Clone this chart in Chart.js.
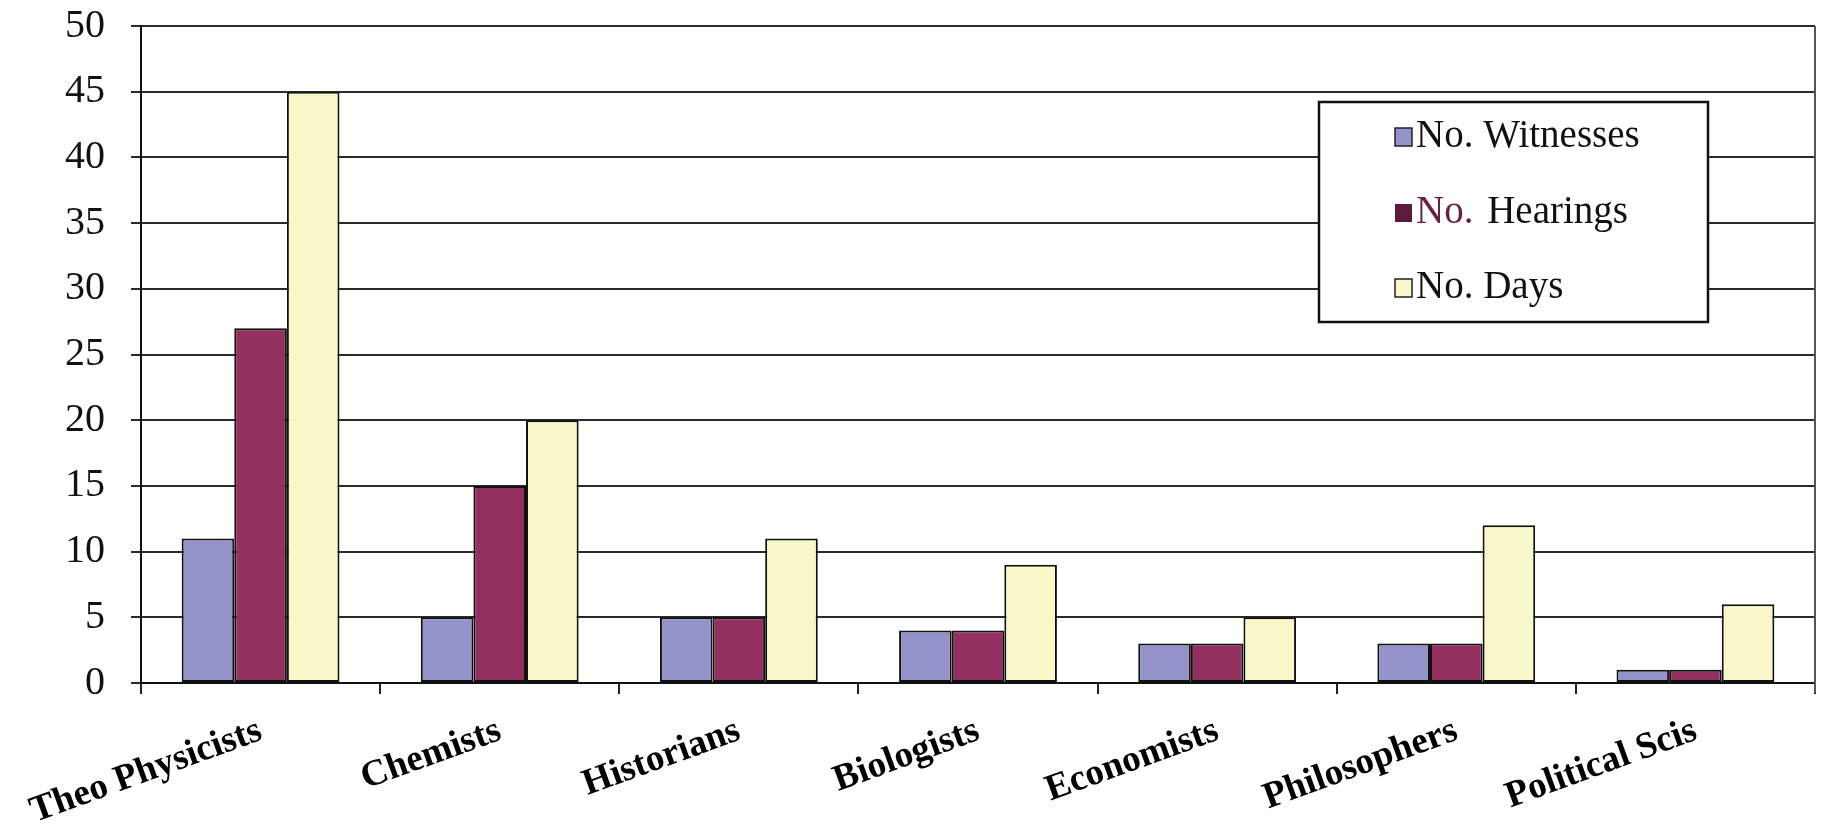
<!DOCTYPE html>
<html>
<head>
<meta charset="utf-8">
<style>
  html, body { margin: 0; padding: 0; background: #fff; }
  #wrap { width: 1827px; height: 825px; }
</style>
<script src="https://cdn.jsdelivr.net/npm/chart.js@4/dist/chart.umd.min.js"></script>
</head>
<body>
<div id="wrap"><canvas id="hearingsChart" width="1827" height="825"></canvas></div>
<script>
const categories = ["Theo Physicists", "Chemists", "Historians", "Biologists", "Economists", "Philosophers", "Political Scis"];
const witnesses = [11, 5, 5, 4, 3, 3, 1];
const hearings = [27, 15, 5, 4, 3, 3, 1];
const days = [45, 20, 11, 9, 5, 12, 6];
const seriesNames = ["No. Witnesses", "No. Hearings", "No. Days"];
const yTicks = [0, 5, 10, 15, 20, 25, 30, 35, 40, 45, 50];

const SERIF = "'Liberation Serif', 'Times New Roman', serif";

// right-hand frame line of the plot
const framePlugin = {
  id: "frame",
  afterDatasetsDraw(chart) {
    const { ctx, chartArea } = chart;
    ctx.save();
    ctx.strokeStyle = "#555";
    ctx.lineWidth = 2;
    ctx.beginPath();
    ctx.moveTo(chartArea.right, chartArea.top);
    ctx.lineTo(chartArea.right, chartArea.bottom + 10);
    ctx.stroke();
    ctx.restore();
  }
};

// boxed legend floating inside the plot, top right
const boxLegendPlugin = {
  id: "boxLegend",
  afterDraw(chart) {
    const { ctx, chartArea } = chart;
    const left = chartArea.right - 496;
    const top = chartArea.top + 76;
    const w = 389, h = 220;
    ctx.save();
    ctx.fillStyle = "#fff";
    ctx.fillRect(left, top, w, h);
    ctx.strokeStyle = "#111";
    ctx.lineWidth = 2.5;
    ctx.strokeRect(left, top, w, h);

    const rows = [35, 111, 186];
    ctx.font = "39px " + SERIF;
    ctx.textBaseline = "middle";
    chart.data.datasets.forEach((ds, i) => {
      const y = top + rows[i];
      const mx = left + 76;
      ctx.fillStyle = i === 1 ? "#5e1a3a" : ds.backgroundColor;
      ctx.fillRect(mx, y - 9, 17, 18);
      if (i !== 1) {
        ctx.strokeStyle = "#222";
        ctx.lineWidth = 1.5;
        ctx.strokeRect(mx, y - 9, 17, 18);
      }
      const tx = mx + 21;
      if (i === 1) {
        ctx.fillStyle = "#6b1e42";
        ctx.fillText("No.", tx, y);
        const nw = ctx.measureText("No. ").width;
        ctx.fillStyle = "#111";
        ctx.fillText(ds.label.replace("No. ", ""), tx + nw + 4, y);
      } else {
        ctx.fillStyle = "#111";
        ctx.fillText(ds.label, tx, y);
      }
    });
    ctx.restore();
  }
};

const ctx = document.getElementById("hearingsChart").getContext("2d");

new Chart(ctx, {
  type: "bar",
  data: {
    labels: categories,
    datasets: [
      { label: seriesNames[0], data: witnesses, backgroundColor: "#9393c9" },
      { label: seriesNames[1], data: hearings, backgroundColor: "#94305f" },
      { label: seriesNames[2], data: days, backgroundColor: "#f7f7c9" }
    ].map(ds => Object.assign(ds, {
      borderColor: "#111",
      borderWidth: 2,
      borderSkipped: false,
      categoryPercentage: 0.66,
      barPercentage: 1.0
    }))
  },
  options: {
    responsive: false,
    animation: false,
    layout: { padding: { top: 26, right: 12, left: 0, bottom: 0 } },
    plugins: {
      legend: { display: false },
      tooltip: { enabled: false }
    },
    scales: {
      x: {
        grid: {
          drawOnChartArea: false,
          drawTicks: true,
          tickLength: 11,
          color: "#222",
          lineWidth: 2
        },
        border: { color: "#111", width: 2 },
        ticks: {
          color: "#000",
          font: { family: SERIF, size: 37, weight: "bold" },
          minRotation: 20,
          maxRotation: 20,
          padding: 15
        },
        afterFit(scale) {
          scale.height = 142;
          scale.paddingLeft = 0;
          scale.paddingRight = 0;
          scale.paddingTop = 0;
          scale.paddingBottom = 0;
        }
      },
      y: {
        min: 0,
        max: 50,
        afterBuildTicks(scale) { scale.ticks = yTicks.map(v => ({ value: v })); },
        grid: {
          color: "#2a2a2a",
          lineWidth: 2,
          tickLength: 10
        },
        border: { color: "#111", width: 2 },
        ticks: {
          color: "#111",
          font: { family: SERIF, size: 40 },
          padding: 26
        },
        afterFit(scale) {
          scale.width = 141;
          scale.paddingTop = 0;
          scale.paddingBottom = 0;
          scale.paddingLeft = 0;
          scale.paddingRight = 0;
        }
      }
    }
  },
  plugins: [framePlugin, boxLegendPlugin]
});
</script>
</body>
</html>
